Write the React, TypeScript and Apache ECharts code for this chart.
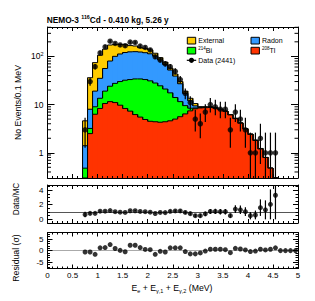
import React, { useEffect, useRef } from 'react';
import * as echarts from 'echarts';

// ---------------- data ----------------
const BIN_WIDTH = 0.1;
const binLowEdges = [0.7, 0.8, 0.9, 1.0, 1.1, 1.2, 1.3, 1.4, 1.5, 1.6, 1.7, 1.8, 1.9, 2.0, 2.1, 2.2, 2.3, 2.4, 2.5, 2.6, 2.7, 2.8, 2.9, 3.0, 3.1, 3.2, 3.3, 3.4, 3.5, 3.6, 3.7, 3.8, 3.9, 4.0, 4.1, 4.2, 4.3, 4.4, 4.5];
const dataCounts = [3, 30, 61, 118, 158, 206, 185, 172, 166, 197, 194, 163, 153, 136, 98, 84, 70, 61, 49, 33, 17, 11, 5, 4, 7, 10, 9, 8, 8, 3, 7, 5, 3, 1, 1, 2, 1, 1, 1];
const mcTl208 = [0, 2.5, 6.3, 8.3, 10.5, 11.5, 11, 9.7, 8.3, 7.3, 6.2, 5.5, 4.9, 4.5, 4.4, 4.3, 4.4, 4.6, 5.0, 5.6, 6.4, 7.4, 8.2, 8.5, 8.6, 8.7, 8.4, 7.9, 7.2, 6.1, 5.1, 4.1, 3.1, 2.4, 1.8, 1.2, 0.8, 0.48, 0.2];
const mcBi214 = [0.48, 0.7, 2.7, 5.2, 8.5, 12.5, 16.5, 20.3, 23.7, 25.7, 27.8, 28.5, 28.1, 26.5, 23.6, 20.2, 16.6, 12.9, 9, 5.9, 3.1, 1.0, 0.3, 0.15, 0.1, 0.1, 0.1, 0.05, 0.05, 0.05, 0.04, 0.03, 0.02, 0.02, 0.01, 0.01, 0, 0, 0];
const mcRadon = [0.92, 4.8, 10, 21.5, 37, 56, 72.5, 82, 88, 91, 91, 89, 86, 82, 73, 59.5, 47, 34.5, 25, 15.5, 7.5, 3.6, 0.9, 0.3, 0.2, 0.1, 0.05, 0.05, 0.05, 0.03, 0.03, 0.02, 0.02, 0.01, 0.01, 0.01, 0, 0, 0];
const mcExternal = [3.2, 28, 55, 70, 85, 92, 76, 64, 55, 43, 39, 28, 27, 23, 15, 10, 8, 5, 4, 3, 2, 1.5, 1.1, 0.05, 0.1, 0.1, 0.05, 0.05, 0.05, 0.05, 0.03, 0.03, 0.02, 0.02, 0.01, 0.01, 0, 0, 0];
const ratioValues = [0.65, 0.82, 0.82, 1.12, 1.12, 1.2, 1.05, 0.98, 0.95, 1.18, 1.18, 1.08, 1.05, 0.98, 0.8, 0.95, 0.92, 1.1, 1.15, 1.15, 0.95, 0.78, 0.5, 0.5, 0.75, 1.08, 1.08, 1.05, 1.05, 0.5, 1.4, 1.3, 1.05, 0.5, 0.6, 1.6, 1.3, 2.05, 3.3];
const residualCenters = [0.75, 0.85, 0.95, 1.05, 1.15, 1.25, 1.35, 1.45, 1.55, 1.65, 1.75, 1.85, 1.95, 2.05, 2.15, 2.25, 2.35, 2.45, 2.55, 2.65, 2.75, 2.85, 2.95, 3.05, 3.15, 3.25, 3.35, 3.45, 3.55, 3.65, 3.75, 3.85, 3.95, 4.05, 4.15, 4.25, 4.35, 4.45, 4.55, 4.65, 4.75, 4.85, 4.95];
const residualValues = [-0.6, -0.6, -1.6, 1.2, 1.3, 2.6, 0.9, 0.1, -0.5, 2.3, 2.3, 1.3, 0.5, 0.4, -1.6, -0.3, -0.6, 1.2, 1.2, 1.2, -0.4, -1.4, -1.4, -1.0, -0.2, 0.6, 0.6, 0.6, 0.4, -0.9, 1.0, 0.7, 0.3, -0.4, -0.2, 0.6, 0.3, 0.6, 1.2, 0, 0, 0, 0];
const logMinorTicks = [0.4, 0.5, 0.6, 0.7, 0.8, 0.9, 2, 3, 4, 5, 6, 7, 8, 9, 20, 30, 40, 50, 60, 70, 80, 90, 200, 300, 400];
const legendEntries = [
  { text: 'External', key: 'external' },
  { text: '{s|214}{n|Bi}', key: 'bi' },
  { text: 'Radon', key: 'radon' },
  { text: '{s|208}{n|Tl}', key: 'tl' },
];
const dataLegendLabel = 'Data (2441)';

// ---------------- style ----------------
const COLORS = { external: '#ffcc00', radon: '#3399ff', bi: '#00ff00', tl: '#ff3300' };
const FONT = '"Liberation Sans", Arial, Helvetica, sans-serif';
const X_MIN = 0, X_MAX = 5;
const Y_MIN = 0.3, Y_MAX = 406;
const R_MIN = -0.5, R_MAX = 4.7;
const S_MIN = -7.7, S_MAX = 7.8;
const GRID_LEFT = 47.5, GRID_WIDTH = 250.5;

const clamp = (v: number, lo: number, hi: number) => Math.max(lo, Math.min(hi, v));

function xAxes(gridIndex: number, showLabels: boolean) {
  const common = {
    type: 'value', gridIndex, min: X_MIN, max: X_MAX, interval: 0.5, z: 10,
    axisLine: { show: true, onZero: false, lineStyle: { color: '#000', width: 1 } },
    axisTick: { show: true, inside: true, length: 4, lineStyle: { color: '#000', width: 1 } },
    minorTick: { show: true, splitNumber: 5, length: 2, lineStyle: { color: '#000', width: 1 } },
    splitLine: { show: false }, minorSplitLine: { show: false },
  };
  return [
    { ...common, position: 'bottom', axisLabel: { show: showLabels, fontSize: 8, color: '#000', fontFamily: FONT, margin: 3 } },
    { ...common, position: 'top', axisLabel: { show: false } },
  ];
}

function linYAxes(gridIndex: number, min: number, max: number, minorSplit: number) {
  const common = {
    type: 'value', gridIndex, min, max, splitNumber: 3, z: 10,
    axisLine: { show: true, onZero: false, lineStyle: { color: '#000', width: 1 } },
    axisTick: { show: true, inside: true, length: 5, lineStyle: { color: '#000', width: 1 } },
    minorTick: { show: true, splitNumber: minorSplit, length: 2.5, lineStyle: { color: '#000', width: 1 } },
    splitLine: { show: false }, minorSplitLine: { show: false },
  };
  return [
    { ...common, position: 'left', axisLabel: { show: true, fontSize: 8, color: '#000', fontFamily: FONT, margin: 4, showMinLabel: false, showMaxLabel: false, formatter: (v: number) => (Math.abs(v) < 1e-9 ? '0' : String(v)) } },
    { ...common, position: 'right', axisLabel: { show: false } },
  ];
}

function logYAxes() {
  const common = {
    type: 'log', logBase: 10, gridIndex: 0, min: Y_MIN, max: Y_MAX, z: 10,
    axisLine: { show: true, onZero: false, lineStyle: { color: '#000', width: 1 } },
    axisTick: { show: true, inside: true, length: 7, lineStyle: { color: '#000', width: 1 } },
    splitLine: { show: false },
  };
  return [
    {
      ...common, position: 'left',
      axisLabel: {
        show: true, fontSize: 8.5, color: '#000', fontFamily: FONT, margin: 4, showMinLabel: false, showMaxLabel: false,
        formatter: (v: number) => {
          const e = Math.log10(v);
          const r = Math.round(e);
          if (Math.abs(e - r) > 1e-6) return '';
          if (r === 0) return '1';
          if (r === 1) return '10';
          return `{b|10}{s|${r}}`;
        },
        rich: {
          b: { fontSize: 8.5, color: '#000', fontFamily: FONT, lineHeight: 11 },
          s: { fontSize: 5.5, color: '#000', fontFamily: FONT, lineHeight: 6, verticalAlign: 'top' },
        },
      },
    },
    { ...common, position: 'right', axisLabel: { show: false } },
  ];
}

function histLayer(name: string, values: number[], color: string, z: number) {
  const cl = (v: number) => clamp(v, Y_MIN, Y_MAX);
  const data = values.map((v, i) => [
    binLowEdges[i],
    cl(v),
    binLowEdges[i] + BIN_WIDTH,
    cl(i > 0 ? values[i - 1] : 0),
    cl(i < values.length - 1 ? values[i + 1] : 0),
  ]);
  return {
    type: 'custom', name, xAxisIndex: 0, yAxisIndex: 0, z, silent: true,
    renderItem: (_p: any, api: any) => {
      const x0 = api.value(0), v = api.value(1), x1 = api.value(2), pv = api.value(3), nv = api.value(4);
      const tl = api.coord([x0, v]);
      const br = api.coord([x1, Y_MIN]);
      const pPrev = api.coord([x0, pv]);
      const pNext = api.coord([x1, nv]);
      return {
        type: 'group',
        children: [
          { type: 'rect', shape: { x: tl[0], y: tl[1], width: br[0] - tl[0] + 0.5, height: br[1] - tl[1] }, style: { fill: color } },
          { type: 'polyline', shape: { points: [[tl[0], pPrev[1]], [tl[0], tl[1]], [br[0], tl[1]], [br[0], pNext[1]]] }, style: { stroke: '#000', lineWidth: 1, fill: null } },
        ],
      };
    },
    data,
  };
}

function errorBars(xAxisIndex: number, yAxisIndex: number, rows: number[][], z: number) {
  return {
    type: 'custom', xAxisIndex, yAxisIndex, z, silent: true,
    renderItem: (_p: any, api: any) => {
      const x = api.value(0);
      const a = api.coord([x, api.value(1)]);
      const b = api.coord([x, api.value(2)]);
      return { type: 'line', shape: { x1: a[0], y1: a[1], x2: b[0], y2: b[1] }, style: { stroke: '#000', lineWidth: 1.2 } };
    },
    data: rows,
  };
}

function buildOption() {
  const binCenters = binLowEdges.map((e) => +(e + BIN_WIDTH / 2).toFixed(3));
  const cumTl = mcTl208.slice();
  const cumBi = cumTl.map((v, i) => v + mcBi214[i]);
  const cumRadon = cumBi.map((v, i) => v + mcRadon[i]);
  const cumExt = cumRadon.map((v, i) => v + mcExternal[i]);

  const mainErr = dataCounts.map((n, i) => [
    binCenters[i],
    clamp(n - Math.sqrt(n), Y_MIN, Y_MAX),
    clamp(n + 0.5 + Math.sqrt(n + 0.25), Y_MIN, Y_MAX),
  ]);
  const ratioErr = ratioValues.map((r, i) => {
    const e = r / Math.sqrt(dataCounts[i]);
    return [binCenters[i], clamp(r - e, R_MIN, R_MAX), clamp(r + e, R_MIN, R_MAX)];
  });

  const legendGraphics: any[] = [];
  const colX = [187.3, 251];
  const rowY = [37.3, 47.3];
  legendEntries.forEach((e, i) => {
    const col = Math.floor(i / 2), row = i % 2;
    legendGraphics.push({ type: 'rect', shape: { x: colX[col], y: rowY[row], width: 8.4, height: 6.7 }, style: { fill: (COLORS as any)[e.key], stroke: '#000', lineWidth: 1 } });
    legendGraphics.push({
      type: 'text', x: colX[col] + 11, y: rowY[row] + 3.6,
      style: {
        text: e.text, fill: '#000', fontSize: 7, fontFamily: FONT, align: 'left', verticalAlign: 'middle',
        rich: {
          n: { fontSize: 7, fontFamily: FONT, fill: '#000', lineHeight: 9 },
          s: { fontSize: 4.5, fontFamily: FONT, fill: '#000', lineHeight: 5, verticalAlign: 'top' },
        },
      },
    });
  });
  legendGraphics.push({ type: 'line', shape: { x1: 186.8, y1: 60.3, x2: 196.2, y2: 60.3 }, style: { stroke: '#000', lineWidth: 1.2 } });
  legendGraphics.push({ type: 'circle', shape: { cx: 191.5, cy: 60.3, r: 2.6 }, style: { fill: '#000' } });
  legendGraphics.push({ type: 'text', x: 198.3, y: 60.5, style: { text: dataLegendLabel, fill: '#000', fontSize: 7, fontFamily: FONT, align: 'left', verticalAlign: 'middle' } });

  return {
    animation: false,
    backgroundColor: '#fff',
    textStyle: { fontFamily: FONT },
    grid: [
      { left: GRID_LEFT, width: GRID_WIDTH, top: 27, height: 151 },
      { left: GRID_LEFT, width: GRID_WIDTH, top: 185, height: 38 },
      { left: GRID_LEFT, width: GRID_WIDTH, top: 232.5, height: 36 },
    ],
    xAxis: [...xAxes(0, false), ...xAxes(1, false), ...xAxes(2, true)],
    yAxis: [...logYAxes(), ...linYAxes(1, R_MIN, R_MAX, 4), ...linYAxes(2, S_MIN, S_MAX, 5)],
    graphic: [
      {
        type: 'text', x: 46.7, y: 19.5, z: 100,
        style: {
          text: '{b|NEMO-3 }{s|116}{b|Cd - 0.410 kg, 5.26 y}', align: 'left', verticalAlign: 'middle',
          rich: {
            b: { fontSize: 8.3, fontWeight: 'bold', fontFamily: FONT, fill: '#000', lineHeight: 10 },
            s: { fontSize: 5.3, fontWeight: 'bold', fontFamily: FONT, fill: '#000', lineHeight: 6, verticalAlign: 'top' },
          },
        },
      },
      { type: 'text', x: 18, y: 102.5, rotation: Math.PI / 2, z: 100, style: { text: 'No Events/0.1 MeV', fill: '#000', fontSize: 8.7, fontFamily: FONT, align: 'center', verticalAlign: 'middle' } },
      { type: 'text', x: 16, y: 199, rotation: Math.PI / 2, z: 100, style: { text: 'Data/MC', fill: '#000', fontSize: 8.2, fontFamily: FONT, align: 'center', verticalAlign: 'middle' } },
      { type: 'text', x: 16, y: 258, rotation: Math.PI / 2, z: 100, style: { text: 'Residual (σ)', fill: '#000', fontSize: 8.7, fontFamily: FONT, align: 'center', verticalAlign: 'middle' } },
      {
        type: 'text', x: 172, y: 287.5, z: 100,
        style: {
          text: '{n|E}{u|e}{n| + E}{u|γ,1}{n| + E}{u|γ,2}{n| (MeV)}', align: 'center', verticalAlign: 'middle',
          rich: {
            n: { fontSize: 8.7, fontFamily: FONT, fill: '#000', lineHeight: 12 },
            u: { fontSize: 5.5, fontFamily: FONT, fill: '#000', lineHeight: 6, verticalAlign: 'bottom' },
          },
        },
      },
      { type: 'group', z: 100, children: legendGraphics },
    ],
    series: [
      histLayer('External', cumExt, COLORS.external, 2),
      histLayer('Radon', cumRadon, COLORS.radon, 3),
      histLayer('214Bi', cumBi, COLORS.bi, 4),
      histLayer('208Tl', cumTl, COLORS.tl, 5),
      {
        type: 'custom', name: 'minorTicks', xAxisIndex: 0, yAxisIndex: 0, z: 15, silent: true,
        renderItem: (_p: any, api: any) => {
          const v = api.value(1);
          const l = api.coord([X_MIN, v]);
          const r = api.coord([X_MAX, v]);
          return {
            type: 'group',
            children: [
              { type: 'line', shape: { x1: l[0], y1: l[1], x2: l[0] + 3.5, y2: l[1] }, style: { stroke: '#000', lineWidth: 1 } },
              { type: 'line', shape: { x1: r[0] - 3.5, y1: r[1], x2: r[0], y2: r[1] }, style: { stroke: '#000', lineWidth: 1 } },
            ],
          };
        },
        data: logMinorTicks.map((v) => [X_MIN, v]),
      },
      errorBars(0, 0, mainErr, 11),
      {
        type: 'scatter', name: 'Data', xAxisIndex: 0, yAxisIndex: 0, z: 12, silent: true,
        symbol: 'circle', symbolSize: 5.5, itemStyle: { color: '#000' },
        data: dataCounts.map((n, i) => [binCenters[i], n]),
      },
      errorBars(2, 2, ratioErr, 11),
      {
        type: 'scatter', name: 'Data/MC', xAxisIndex: 2, yAxisIndex: 2, z: 12, silent: true,
        symbol: 'circle', symbolSize: 5, itemStyle: { color: '#000' },
        data: ratioValues.map((r, i) => [binCenters[i], r]),
        markLine: { silent: true, symbol: ['none', 'none'], label: { show: false }, lineStyle: { color: '#555', width: 1, type: 'solid' }, data: [{ yAxis: 1 }] },
      },
      {
        type: 'scatter', name: 'Residual', xAxisIndex: 4, yAxisIndex: 4, z: 12, silent: true,
        symbol: 'circle', symbolSize: 5, itemStyle: { color: '#000' },
        data: residualValues.map((r, i) => [residualCenters[i], r]),
        markLine: { silent: true, symbol: ['none', 'none'], label: { show: false }, lineStyle: { color: '#aaa', width: 1, type: 'solid' }, data: [{ yAxis: 0 }] },
      },
    ],
  };
}

export default function App() {
  const ref = useRef<HTMLDivElement>(null);
  useEffect(() => {
    if (!ref.current) return;
    const chart = echarts.init(ref.current, null, { renderer: 'svg' });
    chart.setOption(buildOption() as any);
    return () => chart.dispose();
  }, []);
  return <div ref={ref} style={{ position: 'absolute', left: 0, top: 0, width: 315, height: 301, background: '#fff' }} />;
}
